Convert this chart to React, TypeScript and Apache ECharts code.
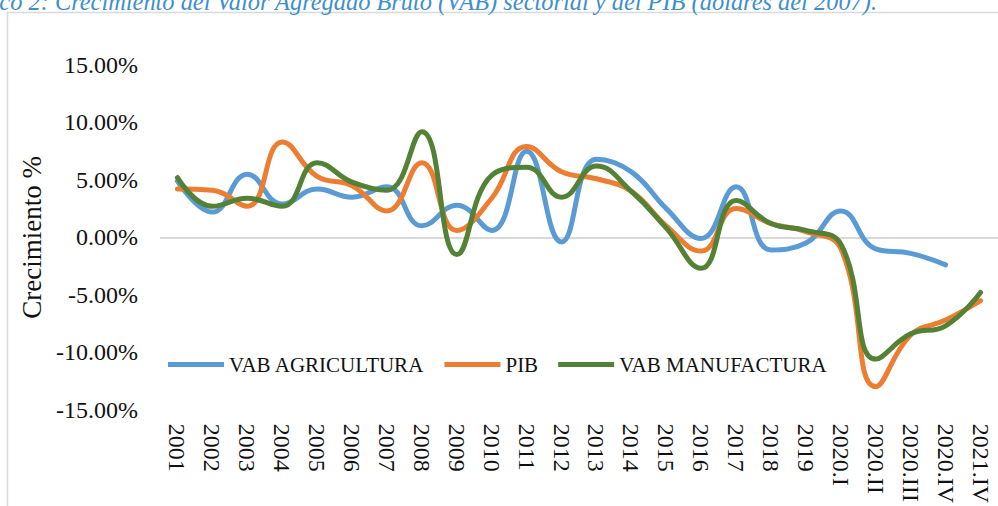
import React, { useEffect, useRef } from "react";
import * as echarts from "echarts";

const categories = [
  "2001", "2002", "2003", "2004", "2005", "2006", "2007", "2008", "2009", "2010",
  "2011", "2012", "2013", "2014", "2015", "2016", "2017", "2018", "2019",
  "2020.I", "2020.II", "2020.III", "2020.IV", "2021.IV",
];

const agricultura = [
  4.9, 2.2, 5.5, 2.9, 4.2, 3.5, 4.4, 1.0, 2.8, 0.6,
  7.5, -0.4, 6.8, 5.7, 2.5, -0.1, 4.4, -1.1, -0.5,
  2.3, -1.0, -1.4, -2.4, null,
];

const pib = [
  4.2, 4.1, 2.7, 8.3, 5.3, 4.5, 2.3, 6.5, 0.6, 3.4,
  7.9, 5.7, 5.1, 4.0, 1.0, -1.2, 2.5, 1.2, 0.5,
  -1.0, -13.0, -8.5, -7.2, -5.5,
];

const manufactura = [
  5.2, 2.7, 3.4, 2.7, 6.5, 4.8, 4.1, 9.2, -1.5, 5.4,
  6.1, 3.5, 6.2, 4.0, 0.8, -2.7, 3.2, 1.2, 0.6,
  -0.6, -10.6, -8.4, -7.7, -4.8,
];

const yTicks = { min: -15, max: 15, interval: 5 };

const FONT = "'Liberation Serif', serif";

export default function App() {
  const ref = useRef<HTMLDivElement>(null);

  useEffect(() => {
    if (!ref.current) return;
    const chart = echarts.init(ref.current, undefined, { renderer: "svg" });
    const lineSeries = (name: string, data: (number | null)[], color: string, extra: any = {}) => ({
      name,
      type: "line",
      data,
      smooth: 0.45,
      symbol: "none",
      connectNulls: false,
      lineStyle: { width: 5, color, cap: "round" },
      itemStyle: { color },
      ...extra,
    });
    chart.setOption({
      animation: false,
      backgroundColor: "#ffffff",
      graphic: [
        {
          type: "rect",
          shape: { x: 7.5, y: 12.5, width: 1200, height: 600 },
          style: { fill: "none", stroke: "#d9d9d9", lineWidth: 1.5 },
          silent: true,
        },
        {
          type: "text",
          x: 877,
          y: 1,
          style: {
            text: "Gráfico 2: Crecimiento del Valor Agregado Bruto (VAB) sectorial y del PIB (dólares del 2007).",
            font: "italic 24.4px 'Liberation Serif', serif",
            fill: "#3d8fd0",
            align: "right",
            verticalAlign: "middle",
          },
          silent: true,
        },
      ],
      grid: { left: 160, top: 65, width: 840, height: 348, containLabel: false },
      legend: {
        left: 163,
        top: 349,
        icon: "rect",
        itemWidth: 56,
        itemHeight: 5,
        itemGap: 20,
        textStyle: { fontFamily: FONT, fontSize: 21, color: "#111111" },
        data: ["VAB AGRICULTURA", "PIB", "VAB MANUFACTURA"],
      },
      xAxis: {
        type: "category",
        data: categories,
        boundaryGap: true,
        axisLine: { show: false },
        axisTick: { show: false },
        axisLabel: {
          rotate: -90,
          interval: 0,
          margin: 14,
          fontFamily: FONT,
          fontSize: 24,
          color: "#111111",
        },
        splitLine: { show: false },
      },
      yAxis: {
        type: "value",
        min: yTicks.min,
        max: yTicks.max,
        interval: yTicks.interval,
        name: "Crecimiento %",
        nameLocation: "middle",
        nameGap: 112,
        nameRotate: 90,
        nameTextStyle: { fontFamily: FONT, fontSize: 27, color: "#111111" },
        axisLine: { show: false },
        axisTick: { show: false },
        splitLine: { show: false },
        axisLabel: {
          margin: 22,
          fontFamily: FONT,
          fontSize: 24,
          color: "#111111",
          formatter: (v: number) => v.toFixed(2) + "%",
        },
      },
      series: [
        lineSeries("VAB AGRICULTURA", agricultura, "#5b9bd5", {
          markLine: {
            silent: true,
            symbol: "none",
            label: { show: false },
            lineStyle: { color: "#d9d9d9", width: 2, type: "solid" },
            data: [{ yAxis: 0 }],
            z: 1,
          },
        }),
        lineSeries("PIB", pib, "#ed7d31"),
        lineSeries("VAB MANUFACTURA", manufactura, "#538135"),
      ],
    });
    return () => chart.dispose();
  }, []);

  return (
    <div
      ref={ref}
      style={{ position: "fixed", left: 0, top: 0, width: 998, height: 506 }}
    />
  );
}
